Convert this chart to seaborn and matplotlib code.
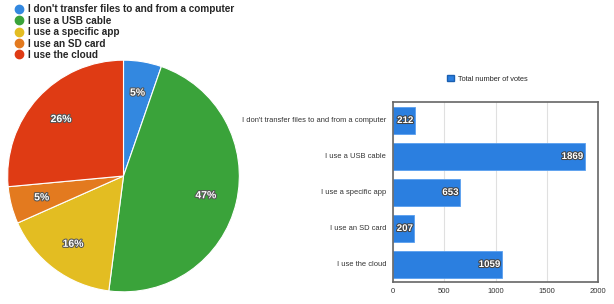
import matplotlib
matplotlib.use("Agg")
import matplotlib.pyplot as plt
import matplotlib.patheffects as pe
from matplotlib.lines import Line2D
from matplotlib.patches import Patch
import seaborn as sns
import pandas as pd

categories = ["I don't transfer files to and from a computer", "I use a USB cable",
              "I use a specific app", "I use an SD card", "I use the cloud"]
votes = [212, 1869, 653, 207, 1059]
pie_colors = ["#3388e0", "#3aa33a", "#e3bd22", "#e37a1f", "#df3b14"]
bar_color = "#2b7fe0"
xticks = [0, 500, 1000, 1500, 2000]

sns.set_style("white")
plt.rcParams['font.family'] = ['Liberation Sans', 'DejaVu Sans']

fig = plt.figure(figsize=(6.14, 3.04), dpi=100)

# Pie
ax_pie = fig.add_axes([6.5/614, 11/304, 234/614, 234/304])
wedges, texts, autotexts = ax_pie.pie(
    votes, colors=pie_colors, startangle=90, counterclock=False,
    autopct=lambda p: f"{p:.0f}%", pctdistance=0.73,
    wedgeprops=dict(edgecolor="white", linewidth=0.8),
    textprops=dict(color="white", fontsize=7.5, fontweight="bold"))
for t in autotexts:
    t.set_path_effects([pe.withStroke(linewidth=1.5, foreground="#555555")])
ax_pie.set_xlim(-1.01, 1.01)
ax_pie.set_ylim(-1.01, 1.01)
ax_pie.set_aspect("equal")

handles = [Line2D([0], [0], marker="o", color="none", markerfacecolor=c,
                  markeredgecolor=c, markersize=6) for c in pie_colors]
fig.legend(handles, categories, loc="upper left", bbox_to_anchor=(0.015, 0.999),
           frameon=False, prop=dict(size=7.2, weight="bold"),
           handletextpad=0.3, labelspacing=0.14, borderaxespad=0, handlelength=1.2)

# Bars
ax_bar = fig.add_axes([393/614, 22/304, 205/614, 180/304])
df = pd.DataFrame({"category": categories, "votes": votes})
sns.barplot(data=df, x="votes", y="category", orient="h", color=bar_color,
            width=0.75, ax=ax_bar, saturation=1, edgecolor="#5aa0ef", linewidth=0.6)
ax_bar.set_xlim(0, 2000)
ax_bar.set_xticks(xticks)
ax_bar.set_xticklabels([str(x) for x in xticks], fontsize=5.5, color="#333333")
ax_bar.tick_params(axis="y", labelsize=5.4, labelcolor="#333333", length=0, pad=5)
ax_bar.tick_params(axis="x", length=0, pad=4)
ax_bar.set_xlabel("")
ax_bar.set_ylabel("")
ax_bar.xaxis.grid(True, color="#e0e0e0", linewidth=0.8)
ax_bar.set_axisbelow(True)
for s in ax_bar.spines.values():
    s.set_color("#666666")
    s.set_linewidth(1.2)
for i, v in enumerate(votes):
    ax_bar.text(v - 12, i, str(v), ha="right", va="center", color="white",
                fontsize=7, fontweight="bold",
                path_effects=[pe.withStroke(linewidth=1.5, foreground="#444444")])

fig.legend([Patch(facecolor=bar_color, edgecolor="#1a5fb0")], ["Total number of votes"],
           loc="center left", bbox_to_anchor=(444/614, 1 - 79/304), frameon=False,
           prop=dict(size=5.3), handlelength=0.9, handleheight=0.9, handletextpad=0.6,
           borderaxespad=0)

fig.savefig("out.png", dpi=100, facecolor="white")
